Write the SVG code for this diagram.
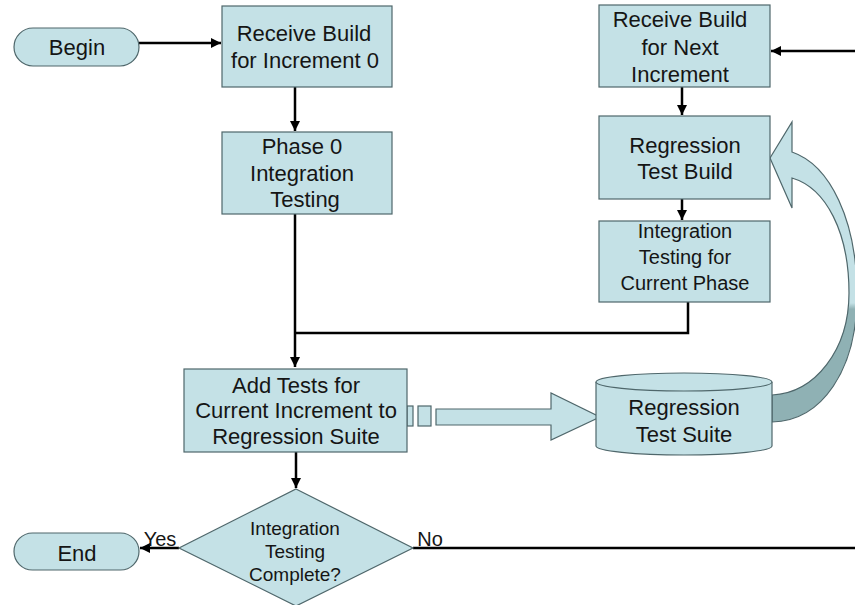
<svg xmlns="http://www.w3.org/2000/svg" width="855" height="605" viewBox="0 0 855 605">
<style>
.n{fill:#c4e1e6;stroke:#4f676b;stroke-width:1.2}
.t{font-family:"Liberation Sans",Arial,sans-serif;font-size:22px;fill:#151515;text-anchor:middle}
.s{font-size:20px}
.d{font-size:19px}
.c{fill:none;stroke:#000;stroke-width:2.5}
</style>
<defs>
<marker id="ah" viewBox="0 0 10 10" refX="10" refY="5" markerWidth="4" markerHeight="4" orient="auto" markerUnits="strokeWidth">
<path d="M0,0 L10,5 L0,10 Z" fill="#000"/>
</marker>
<linearGradient id="cg" gradientUnits="userSpaceOnUse" x1="0" y1="120" x2="0" y2="425">
<stop offset="0.6" stop-color="#c4e1e6"/>
<stop offset="0.62" stop-color="#8fb1b4"/>
</linearGradient>
</defs>
<rect width="855" height="605" fill="#fff"/>

<g id="connectors">
<line class="c" x1="139" y1="43" x2="221" y2="43" marker-end="url(#ah)"/>
<line class="c" x1="295" y1="87" x2="295" y2="131" marker-end="url(#ah)"/>
<polyline class="c" points="295,214 295,367" marker-end="url(#ah)"/>
<polyline class="c" points="688,302 688,333 295,333"/>
<line class="c" x1="855" y1="51" x2="771" y2="51" marker-end="url(#ah)"/>
<line class="c" x1="682" y1="87" x2="682" y2="115" marker-end="url(#ah)"/>
<line class="c" x1="682" y1="199" x2="682" y2="220" marker-end="url(#ah)"/>
<line class="c" x1="296" y1="452" x2="296" y2="488" marker-end="url(#ah)"/>
<line class="c" x1="179" y1="548" x2="140" y2="548" marker-end="url(#ah)"/>
<line class="c" x1="413" y1="548" x2="855" y2="548"/>
<text class="t s" x="160" y="546">Yes</text>
<text class="t s" x="430" y="546">No</text>
</g>

<g id="block-arrow">
<rect class="n" x="407" y="406" width="6" height="20"/>
<rect class="n" x="418" y="406" width="13" height="20"/>
<path class="n" d="M436,409 L551,409 L551,393 L600,417 L551,440 L551,425 L436,425 Z"/>
</g>

<g id="curved-arrow">
<path d="M770,158 L792,122 L792,152 C830,165 857,220 857,295 C857,370 822,421 772,422 L772,395 C815,393 849,350 849,293 C849,232 826,188 792,178 L792,208 Z" fill="url(#cg)" stroke="#4f676b" stroke-width="1.2"/>
</g>

<g id="begin">
<rect class="n" x="14" y="28" width="125" height="38" rx="19"/>
<text class="t" x="77" y="55">Begin</text>
</g>

<g id="receive0">
<rect class="n" x="222" y="6" width="170" height="81"/>
<text class="t" x="304" y="41">Receive Build</text>
<text class="t" x="305" y="68">for Increment 0</text>
</g>

<g id="phase0">
<rect class="n" x="222" y="132" width="170" height="82"/>
<text class="t" x="302" y="154">Phase 0</text>
<text class="t" x="302" y="181">Integration</text>
<text class="t" x="305" y="207">Testing</text>
</g>

<g id="receive-next">
<rect class="n" x="599" y="5" width="171" height="82"/>
<text class="t" x="680" y="27">Receive Build</text>
<text class="t" x="680" y="55">for Next</text>
<text class="t" x="680" y="82">Increment</text>
</g>

<g id="regression-build">
<rect class="n" x="599" y="116" width="171" height="83"/>
<text class="t" x="685" y="153">Regression</text>
<text class="t" x="685" y="179">Test Build</text>
</g>

<g id="integration-current">
<rect class="n" x="599" y="221" width="171" height="81"/>
<text class="t s" x="685" y="238">Integration</text>
<text class="t s" x="685" y="264">Testing for</text>
<text class="t s" x="685" y="290">Current Phase</text>
</g>

<g id="add-tests">
<rect class="n" x="184" y="369" width="223" height="83"/>
<text class="t" x="296" y="393">Add Tests for</text>
<text class="t" x="296" y="418">Current Increment to</text>
<text class="t" x="296" y="444">Regression Suite</text>
</g>

<g id="suite">
<path class="n" d="M596,382 L596,446 A88,9 0 0 0 772,446 L772,382"/>
<ellipse class="n" cx="684" cy="382" rx="88" ry="9"/>
<text class="t" x="684" y="415">Regression</text>
<text class="t" x="684" y="442">Test Suite</text>
</g>

<g id="decision">
<polygon class="n" points="296,489 413,548 296,606 179,548"/>
<text class="t d" x="295" y="535">Integration</text>
<text class="t d" x="295" y="558">Testing</text>
<text class="t d" x="295" y="581">Complete?</text>
</g>

<g id="end">
<rect class="n" x="14" y="533" width="125" height="37" rx="18.5"/>
<text class="t" x="77" y="561">End</text>
</g>
</svg>
